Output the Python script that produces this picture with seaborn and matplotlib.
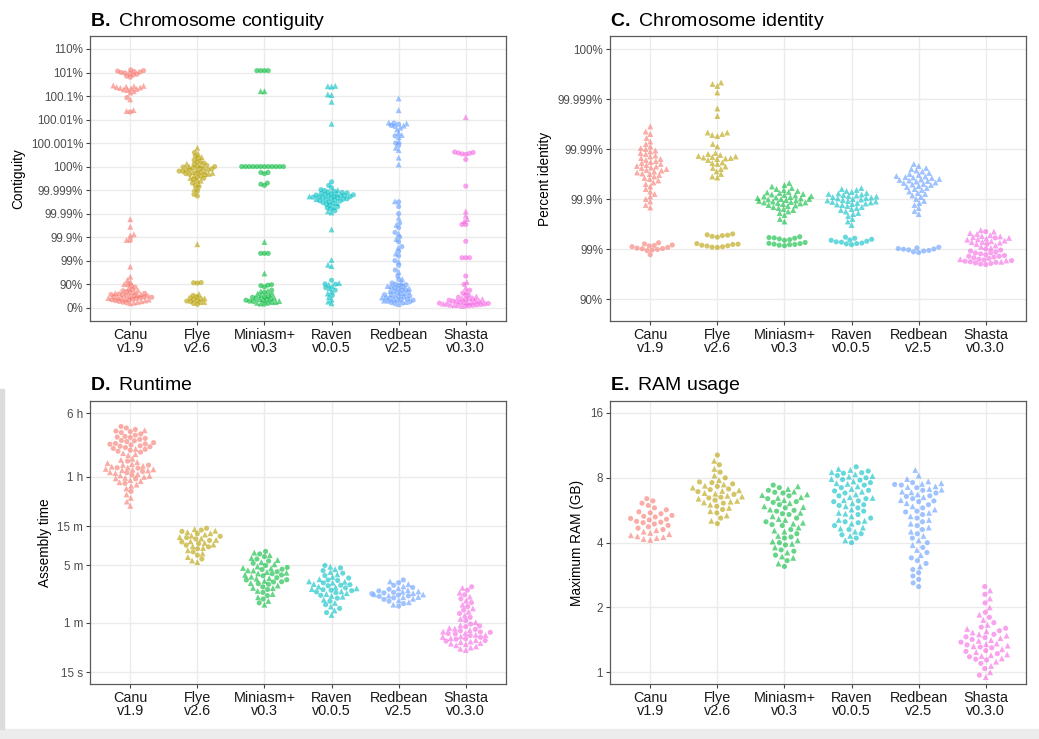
import warnings

import matplotlib
matplotlib.use("Agg")
import matplotlib.pyplot as plt
import numpy as np
import pandas as pd
import seaborn as sns
from matplotlib.markers import MarkerStyle
from matplotlib.patches import Rectangle
from matplotlib.ticker import NullLocator

warnings.filterwarnings("ignore")

ASSEMBLERS = ["Canu\nv1.9", "Flye\nv2.6", "Miniasm+\nv0.3", "Raven\nv0.0.5", "Redbean\nv2.5", "Shasta\nv0.3.0"]
PALETTE = ["#F8766D", "#B79F00", "#00BA38", "#00BFC4", "#619CFF", "#F564E3"]

# ---- B. contiguity (%) : _c = circles, _t = triangles
contig_canu_c = [101.3, 101.2, 101.1, 101.0, 100.92, 100.85, 100.78, 100.7, 100.63, 101.15, 101.05, 100.96,
                 100.085, 100.021,
                 99.862, 89.5, 88.0, 86.5, 83.0, 81.0, 79.0, 77.0, 75.5, 74.0, 72.0, 70.0, 68.0, 66.0, 64.0, 62.0,
                 60.0, 57.0, 54.0, 50.0, 46.0, 42.0, 38.0, 72.5, 69.0, 65.0, 59.0, 53.0]
contig_canu_t = [100.2, 100.22, 100.25, 100.18, 100.27, 100.21, 100.24, 100.19, 100.23, 100.26, 100.16, 100.28,
                 100.14, 100.072, 100.023, 100.025, 99.9826, 99.9637, 99.924, 99.915, 99.868, 98.2, 95.2, 93.4,
                 91.9, 90.0, 85.0, 82.0, 78.0, 76.0, 73.0, 71.0, 67.0, 63.0, 61.0, 58.0, 55.0, 51.0, 47.0, 43.0,
                 39.0, 35.0]
contig_flye_c = [100.0006, 100.00045, 100.00035, 100.00028, 100.0002, 100.00015, 100.0001, 100.00005, 100.00002,
                 100.0, 99.99998, 99.99995, 99.99991, 99.9999, 99.99986, 99.99985, 99.99981, 99.9998, 99.99976,
                 99.99972, 99.9997, 99.99967, 99.99964, 99.9996, 99.99955, 99.9995, 99.99945, 99.99938, 99.9993,
                 99.9992, 99.9991, 99.99888, 99.99849, 99.99822, 91.3, 91.0, 91.5, 70.0, 62.0, 55.0, 48.0, 40.0,
                 33.0, 28.0, 45.0, 58.0, 66.0, 52.0]
contig_flye_t = [100.0008, 100.00055, 100.0004, 100.00025, 100.00012, 100.00007, 100.0, 99.99997, 99.9999,
                 99.99987, 99.9998, 99.99977, 99.99973, 99.99969, 99.99962, 99.99952, 99.9994, 99.99925, 99.99905,
                 99.8, 74.0, 60.0, 42.0]
contig_miniasm_c = [101.2, 101.2, 101.2, 101.2, 100.0, 100.0, 100.0, 100.0, 100.0, 100.0, 100.0, 100.0, 100.0,
                    100.0, 100.0, 100.0, 99.99975, 99.99975, 99.9997, 99.9993, 99.9992, 99.99925,
                    99.51, 99.51, 99.51, 89.5, 89.0, 88.5, 87.0, 82.0, 78.0, 72.0, 68.0, 64.0, 60.0, 55.0, 50.0,
                    45.0, 40.0, 35.0, 30.0, 66.0, 58.0, 52.0, 47.0]
contig_miniasm_t = [100.16, 100.16, 99.84, 96.5, 81.0, 80.0, 70.0, 62.0, 57.0, 48.0, 42.0, 38.0, 33.0, 75.0]
contig_raven_c = [99.99935, 99.9992, 99.9991, 99.99902, 99.998953, 99.998878, 99.998798, 99.998741, 99.998682,
                  99.99862, 99.998555, 99.998486, 99.998415, 99.998378, 99.998302, 99.998262, 99.998222, 99.99818,
                  99.998095, 99.99805, 99.998005, 99.997911, 99.997812, 99.997761, 99.997656, 99.997545, 99.997488,
                  99.99737, 99.997182, 99.997049, 99.996838, 99.996612, 99.996369, 99.996019, 99.995533, 99.994988,
                  99.994377, 99.99369, 99.992414, 93.2, 90.3, 90.0, 86.0, 82.0, 70.0]
contig_raven_t = [100.26, 100.27, 100.25, 100.117, 100.11, 100.057, 100.0066, 99.999, 99.998587, 99.998138,
                  99.997601, 99.996452, 99.994752, 99.992057, 99.991087, 99.953, 99.07, 98.5, 98.3, 91.0, 89.5,
                  88.0, 85.0, 80.0, 75.0, 65.0, 55.0, 45.0, 35.0]
contig_redbean_c = [100.00708, 100.00631, 100.00562, 100.00501, 100.002, 100.001, 100.0009, 99.99684, 99.99499,
                    99.99, 99.9749, 99.9602, 99.9369, 99.9, 99.8415, 99.749, 99.602, 99.369, 99.0, 98.42, 97.49,
                    95.53, 93.69, 91.09, 90.0, 89.5, 88.8, 87.4, 85.9, 84.2, 82.2, 80.0, 77.6, 74.9, 71.8, 68.4,
                    64.5, 60.2, 55.3, 49.9, 43.8, 36.9, 62.0, 67.0, 72.0, 78.0, 83.0, 86.5, 58.0, 52.0, 47.0, 40.0,
                    33.0]
contig_redbean_t = [100.079, 100.025, 100.0074, 100.0068, 100.0055, 100.0045, 100.0038, 100.00275, 100.0022,
                    100.0018, 100.0012, 100.0008, 100.0007, 100.00038, 100.00009, 99.997, 99.985, 99.97, 99.93,
                    99.88, 99.72, 99.5, 98.9, 97.0, 94.0, 91.5, 88.0, 85.0, 81.0, 76.0, 70.0, 63.0, 57.0, 50.0,
                    42.0, 30.0]
contig_shasta_c = [100.00062, 100.0006, 100.00058, 100.00056, 100.00054, 100.00052, 100.0003, 99.99917, 99.971,
                   99.971, 99.85, 99.25, 99.25, 99.25, 95.5, 89.8, 82.0, 76.0, 70.0, 64.0, 58.0, 52.0, 47.0, 42.0,
                   38.0, 34.0, 30.0, 27.0, 24.0, 21.0, 18.0, 15.0, 48.0, 55.0, 45.0, 36.0, 28.0, 20.0]
contig_shasta_t = [100.0126, 99.992, 99.988, 99.983, 99.979, 92.0, 86.0, 79.0, 73.0, 67.0, 61.0, 50.0, 44.0,
                   40.0, 32.0, 26.0, 23.0, 16.0, 62.0, 57.0]

# ---- C. identity (%)
ident_canu_c = [99.25, 99.21, 99.17, 99.13, 99.1, 99.07, 99.04, 99.01, 98.98, 98.95, 98.92, 99.15, 99.02, 98.7]
ident_canu_t = [99.996452, 99.995533, 99.994988, 99.993974, 99.992921, 99.992057, 99.991087, 99.99045, 99.99,
                99.989285, 99.98878, 99.98798, 99.98741, 99.98651, 99.98587, 99.98486, 99.98415, 99.9834, 99.98262,
                99.9818, 99.98095, 99.98005, 99.97911, 99.97812, 99.97761, 99.97656, 99.97601, 99.97488, 99.9737,
                99.97308, 99.97182, 99.97049, 99.9691, 99.96838, 99.96689, 99.96452, 99.96198, 99.96019, 99.95734,
                99.95323, 99.94988, 99.94377, 99.9369, 99.92921, 99.92057, 99.91087, 99.9, 99.8878, 99.8682,
                99.8521]
ident_flye_c = [99.5, 99.48, 99.46, 99.44, 99.42, 99.47, 99.22, 99.19, 99.16, 99.13, 99.1, 99.07, 99.2, 99.14,
                99.08]
ident_flye_t = [99.99933, 99.9993, 99.99926, 99.99913, 99.998451, 99.997812, 99.995323, 99.99532, 99.994988,
                99.994752, 99.994505, 99.992057, 99.991087, 99.98798, 99.98741, 99.98682, 99.9862, 99.98587,
                99.98555, 99.98521, 99.98486, 99.98451, 99.98415, 99.9834, 99.98138, 99.98005, 99.97761, 99.97488,
                99.97182, 99.96838, 99.96452, 99.96285, 99.98095, 99.97601]
ident_miniasm_c = [99.43, 99.41, 99.39, 99.37, 99.35, 99.33, 99.4, 99.26, 99.23, 99.2, 99.18, 99.16, 99.14,
                   99.22, 99.19]
ident_miniasm_t = [99.95214, 99.94752, 99.94377, 99.93974, 99.9369, 99.93393, 99.93082, 99.92756, 99.92414,
                   99.92057, 99.91872, 99.91682, 99.91489, 99.9129, 99.91087, 99.9088, 99.90667, 99.9045, 99.90228,
                   99.9, 99.89767, 99.89529, 99.89285, 99.89035, 99.8878, 99.8852, 99.8825, 99.8798, 99.877,
                   99.8741, 99.8682, 99.862, 99.8555, 99.8486, 99.8415, 99.834, 99.8222, 99.8095, 99.7911, 99.7488,
                   99.7182, 99.92587, 99.8651, 99.9, 99.8825]
ident_raven_c = [99.42, 99.39, 99.36, 99.33, 99.3, 99.27, 99.24, 99.21, 99.18, 99.34, 99.28, 99.22]
ident_raven_t = [99.93974, 99.9369, 99.93393, 99.93082, 99.92756, 99.92414, 99.92057, 99.91872, 99.91682,
                 99.91489, 99.9129, 99.91087, 99.9088, 99.90667, 99.9045, 99.9, 99.89767, 99.89529, 99.89285,
                 99.89035, 99.8878, 99.8852, 99.8825, 99.8798, 99.877, 99.8741, 99.8712, 99.8682, 99.862, 99.8555,
                 99.8486, 99.8415, 99.834, 99.8222, 99.8095, 99.8, 99.7812, 99.7488, 99.7182, 99.6689, 99.92238,
                 99.90228]
ident_redbean_c = [99.08, 99.05, 99.02, 98.99, 98.96, 98.93, 98.9, 98.86, 98.82, 99.0]
ident_redbean_t = [99.98005, 99.97812, 99.97601, 99.97488, 99.97308, 99.97182, 99.9698, 99.96838, 99.96689,
                   99.96533, 99.96452, 99.96285, 99.96198, 99.96019, 99.95926, 99.95831, 99.95635, 99.95533,
                   99.95323, 99.95214, 99.94988, 99.94752, 99.94505, 99.94246, 99.93974, 99.9369, 99.93393,
                   99.92921, 99.92414, 99.92057, 99.91489, 99.9088, 99.9, 99.89035, 99.8798, 99.8682, 99.8486,
                   99.8262, 99.8, 99.96369, 99.95734, 99.94871]
ident_shasta_c = [99.55, 99.4, 99.2, 99.0, 98.95, 98.9, 98.85, 98.8, 98.75, 98.7, 98.65, 98.6, 98.55, 98.5, 98.45,
                  98.4, 98.35, 98.3, 98.25, 98.2, 98.15, 98.1, 98.05, 98.0, 97.95, 98.6, 98.8]
ident_shasta_t = [99.58, 99.55, 99.52, 99.5, 99.47, 99.45, 99.42, 99.4, 99.38, 99.35, 99.32, 99.3, 99.27, 99.25,
                  99.2, 99.15, 99.1, 99.05, 99.44, 99.36, 99.28, 98.4, 98.2, 98.3]

# ---- D. runtime (seconds)
time_canu_c = [14800, 14200, 13600, 13000, 12500, 12000, 11600, 11200, 10900, 10600, 10300, 10000, 9700, 9400,
               9200, 9000, 8800, 8600, 8400, 8200, 8000, 7800, 7600, 7400, 7200, 12800, 11000, 9900, 9100, 8500,
               5600, 5000, 4600, 4200, 3800, 3400, 3000, 4650, 4050, 2400]
time_canu_t = [7000, 6800, 6600, 7900, 13300, 6000, 5800, 5450, 5300, 5150, 4900, 4800, 4700, 4500, 4400, 4300,
               4100, 4000, 3900, 3700, 3600, 3500, 3300, 3200, 3100, 2900, 2800, 4350, 3750, 3450, 5050, 4450,
               2600, 2200, 2000, 1800, 1600]
time_flye_c = [850, 810, 780, 730, 680, 655, 630, 605, 580, 555, 530, 505, 480, 440, 400, 360]
time_flye_t = [830, 795, 765, 740, 715, 692, 665, 640, 615, 590, 565, 540, 515, 490, 460, 420, 380, 345, 330]
time_miniasm_c = [445, 415, 385, 360, 340, 320, 300, 284, 268, 252, 238, 225, 213, 201, 189, 177, 165, 153, 141,
                  129, 117, 105, 270, 230, 190, 200, 180]
time_miniasm_t = [430, 400, 370, 350, 330, 310, 292, 276, 260, 245, 231, 219, 207, 195, 183, 171, 159, 147, 135,
                  123, 111, 100, 250, 210, 240, 262, 160, 280]
time_raven_c = [300, 280, 260, 242, 226, 211, 197, 184, 172, 160, 150, 140, 130, 120, 110, 100, 90, 80, 200, 170,
                148, 175, 152, 143]
time_raven_t = [290, 270, 250, 234, 218, 204, 190, 178, 166, 155, 145, 135, 125, 115, 105, 95, 85, 75, 185, 158,
                138, 163, 192, 128]
time_redbean_c = [200, 185, 172, 162, 154, 147, 141, 136, 131, 126, 121, 116, 110, 103, 96, 139, 128]
time_redbean_t = [192, 178, 167, 158, 150, 144, 138, 133, 129, 123, 118, 113, 107, 100, 145, 134, 124]
time_shasta_c = [165, 150, 132, 118, 106, 95, 86, 78, 70, 64, 58, 54, 50, 48, 46, 44, 42, 40, 38, 36, 55, 46.5,
                 38.5, 44.5, 36.5]
time_shasta_t = [160, 140, 125, 112, 100, 90, 82, 74, 67, 61, 56, 52, 49, 47, 45, 43, 41, 39, 37, 35, 34, 33, 32,
                 31, 30, 29, 28, 51, 42.5, 35.5, 33.5, 40.5]

# ---- E. RAM (GB)
ram_canu_c = [6.4, 6.25, 6.1, 5.95, 5.8, 5.68, 5.56, 5.45, 5.35, 5.26, 5.18, 5.1, 5.02, 4.95, 4.88, 4.81, 4.74,
              4.67, 4.6, 5.5, 5.3, 5.14, 4.98]
ram_canu_t = [4.12, 4.16, 4.2, 4.24, 4.28, 4.33, 4.38, 4.44, 4.5, 4.57]
ram_flye_c = [10.2, 9.2, 8.5, 8.0, 7.6, 7.3, 7.1, 6.9, 6.7, 6.5, 6.3, 6.1, 5.9, 5.7, 5.5, 5.2, 4.9, 7.65, 7.05,
              6.45, 7.5]
ram_flye_t = [9.6, 8.8, 8.2, 7.8, 7.45, 7.2, 7.0, 6.8, 6.6, 6.4, 6.2, 6.0, 5.8, 5.6, 5.35, 5.05, 7.35, 6.75, 6.15,
              6.95, 6.55, 6.25]
ram_miniasm_c = [7.4, 7.2, 7.0, 6.8, 6.6, 6.4, 6.2, 6.0, 5.8, 5.6, 5.4, 5.2, 5.0, 4.8, 4.6, 4.4, 4.2, 4.0, 3.9,
                 3.7, 3.5, 3.3, 3.1, 6.85, 6.15, 5.45, 4.85, 4.25, 3.65, 5.65]
ram_miniasm_t = [7.3, 7.1, 6.9, 6.7, 6.5, 6.3, 6.1, 5.9, 5.7, 5.5, 5.3, 5.1, 4.9, 4.7, 4.5, 4.3, 4.1, 3.95, 3.8,
                 3.6, 3.4, 3.2, 6.45, 5.85, 5.15, 4.55, 4.05, 3.45, 6.65, 4.95]
ram_raven_c = [9.0, 8.6, 8.4, 8.2, 8.0, 7.8, 7.6, 7.4, 7.2, 7.0, 6.8, 6.6, 6.4, 6.2, 6.0, 5.8, 5.6, 5.4, 5.2, 5.0,
               4.8, 4.6, 4.4, 4.2, 4.0, 8.45, 7.85, 6.95, 5.95, 4.95, 4.35, 6.25]
ram_raven_t = [8.8, 8.5, 8.3, 8.1, 7.9, 7.7, 7.5, 7.3, 7.1, 6.9, 6.7, 6.5, 6.3, 6.1, 5.9, 5.7, 5.5, 5.3, 5.1, 4.9,
               4.7, 4.5, 4.3, 4.1, 8.15, 7.55, 6.45, 5.45, 4.65, 8.7, 5.05]
ram_redbean_c = [7.6, 7.4, 7.2, 7.0, 6.8, 6.6, 6.4, 6.2, 6.0, 5.8, 5.6, 5.4, 5.2, 5.0, 4.8, 4.6, 4.4, 4.2, 4.0,
                 3.8, 3.6, 3.4, 3.2, 3.0, 2.8, 2.6, 7.45, 6.55, 5.55, 6.25, 2.7, 2.5, 2.9, 3.3]
ram_redbean_t = [8.7, 8.2, 7.9, 7.7, 7.5, 7.3, 7.1, 6.9, 6.7, 6.5, 6.3, 6.1, 5.9, 5.7, 5.5, 5.3, 5.1, 4.9, 4.7,
                 4.5, 4.3, 4.1, 3.9, 3.7, 3.5, 7.25, 7.05, 6.85, 7.55, 3.1]
ram_shasta_c = [2.5, 2.3, 2.1, 1.9, 1.8, 1.7, 1.62, 1.56, 1.5, 1.46, 1.42, 1.38, 1.34, 1.3, 1.26, 1.22, 1.18,
                1.14, 1.1, 1.04, 0.97, 1.45, 1.25, 1.15, 1.31, 1.6]
ram_shasta_t = [2.4, 2.2, 2.0, 1.85, 1.75, 1.66, 1.59, 1.53, 1.48, 1.44, 1.4, 1.36, 1.32, 1.28, 1.24, 1.2, 1.16,
                1.12, 1.07, 1.0, 0.95, 1.35, 1.55, 1.41, 1.21, 1.5, 1.33, 1.19]

CONTIG_TICKS = [0, 90, 99, 99.9, 99.99, 99.999, 100, 100.001, 100.01, 100.1, 101, 110]
CONTIG_LABELS = ["0%", "90%", "99%", "99.9%", "99.99%", "99.999%", "100%", "100.001%", "100.01%", "100.1%",
                 "101%", "110%"]
IDENT_TICKS = [90, 99, 99.9, 99.99, 99.999, 100]
IDENT_LABELS = ["90%", "99%", "99.9%", "99.99%", "99.999%", "100%"]
TIME_TICKS = [15, 60, 300, 900, 3600, 21600]
TIME_LABELS = ["15 s", "1 m", "5 m", "15 m", "1 h", "6 h"]
RAM_TICKS = [1, 2, 4, 8, 16]
RAM_LABELS = ["1", "2", "4", "8", "16"]

W, H = 1039, 739
MARKER_PT = 3.7


def nines_fwd(v):
    """Escala em 'noves': cada casa decimal perto de 100% ocupa o mesmo espaço."""
    f = np.asarray(v, dtype=float) / 100.0
    with np.errstate(all="ignore"):
        lo = -np.log10(1.0 - f)
        hi = 12.0 + np.log10(f - 1.0)
        mid = 6.0 + (f - 1.0) / 1e-5
    return np.where(f <= 0.99999, lo, np.where(f >= 1.00001, hi, mid))


def nines_inv(p):
    p = np.asarray(p, dtype=float)
    with np.errstate(all="ignore"):
        lo = 1.0 - 10.0 ** (-p)
        hi = 1.0 + 10.0 ** (p - 12.0)
        mid = 1.0 + (p - 6.0) * 1e-5
    return 100.0 * np.where(p <= 5.0, lo, np.where(p >= 7.0, hi, mid))


def montar_tabela(grupos):
    linhas = []
    for nome, (circ, tri) in zip(ASSEMBLERS, grupos):
        linhas += [(nome, v, "o") for v in circ]
        linhas += [(nome, v, "^") for v in tri]
    return pd.DataFrame(linhas, columns=["assembler", "value", "shape"])


def marker_path(m, scale=1.0):
    ms = MarkerStyle(m)
    return ms.get_path().transformed(ms.get_transform().scale(scale))


sns.set_theme(style="whitegrid")
plt.rcParams["font.family"] = ["Liberation Sans", "DejaVu Sans"]
plt.rcParams["mathtext.fontset"] = "custom"
plt.rcParams["mathtext.rm"] = "Liberation Sans"
plt.rcParams["mathtext.bf"] = "Liberation Sans:bold"

paineis = [
    dict(box=(90, 36, 506, 321), title_y=26, title=r"$\mathbf{B.}$ Chromosome contiguity", ylabel="Contiguity",
         scale="nines", ticks=CONTIG_TICKS, labels=CONTIG_LABELS, ylim=(-267.3, 135.7), swarm=2.6,
         groups=[(contig_canu_c, contig_canu_t), (contig_flye_c, contig_flye_t),
                 (contig_miniasm_c, contig_miniasm_t), (contig_raven_c, contig_raven_t),
                 (contig_redbean_c, contig_redbean_t), (contig_shasta_c, contig_shasta_t)]),
    dict(box=(610, 36, 1026, 321), title_y=26, title=r"$\mathbf{C.}$ Chromosome identity", ylabel="Percent identity",
         scale="nines", ticks=IDENT_TICKS, labels=IDENT_LABELS, ylim=(72.46, 100.00026), swarm=3.6,
         groups=[(ident_canu_c, ident_canu_t), (ident_flye_c, ident_flye_t), (ident_miniasm_c, ident_miniasm_t),
                 (ident_raven_c, ident_raven_t), (ident_redbean_c, ident_redbean_t),
                 (ident_shasta_c, ident_shasta_t)]),
    dict(box=(90, 401, 506, 684), title_y=390, title=r"$\mathbf{D.}$ Runtime", ylabel="Assembly time",
         scale="log", ticks=TIME_TICKS, labels=TIME_LABELS, ylim=(10.8, 30250), swarm=3.8,
         groups=[(time_canu_c, time_canu_t), (time_flye_c, time_flye_t), (time_miniasm_c, time_miniasm_t),
                 (time_raven_c, time_raven_t), (time_redbean_c, time_redbean_t), (time_shasta_c, time_shasta_t)]),
    dict(box=(610, 401, 1026, 684), title_y=390, title=r"$\mathbf{E.}$ RAM usage", ylabel="Maximum RAM (GB)",
         scale="log", ticks=RAM_TICKS, labels=RAM_LABELS, ylim=(0.882, 18.19), swarm=4.6,
         groups=[(ram_canu_c, ram_canu_t), (ram_flye_c, ram_flye_t), (ram_miniasm_c, ram_miniasm_t),
                 (ram_raven_c, ram_raven_t), (ram_redbean_c, ram_redbean_t), (ram_shasta_c, ram_shasta_t)]),
]

fig = plt.figure(figsize=(W / 100, H / 100), dpi=100)
fig.patches.append(Rectangle((0, 0), 1, 10 / H, transform=fig.transFigure, color="#ececec", zorder=-5))
fig.patches.append(Rectangle((0, 10 / H), 4 / W, 340 / H, transform=fig.transFigure, color="#dcdcdc", zorder=-5))

eixos = []
for p in paineis:
    left, top, right, bottom = p["box"]
    ax = fig.add_axes([left / W, 1 - bottom / H, (right - left) / W, (bottom - top) / H])
    if p["scale"] == "nines":
        ax.set_yscale("function", functions=(nines_fwd, nines_inv))
    else:
        ax.set_yscale("log")
    df = montar_tabela(p["groups"])
    p["df"] = df
    sns.swarmplot(data=df, x="assembler", y="value", hue="assembler", order=ASSEMBLERS, hue_order=ASSEMBLERS,
                  palette=PALETTE, size=p["swarm"], linewidth=0, alpha=0.6, legend=False, ax=ax)
    ax.set_xlim(-0.6, 5.6)
    ax.set_ylim(*p["ylim"])
    ax.set_yticks(p["ticks"], labels=p["labels"])
    ax.yaxis.set_minor_locator(NullLocator())
    ax.set_facecolor("white")
    ax.grid(True, axis="both", color="#ebebeb", linewidth=1.0)
    ax.set_axisbelow(True)
    for sp in ax.spines.values():
        sp.set_color("#5a5a5a")
        sp.set_linewidth(0.9)
    ax.tick_params(axis="both", which="major", bottom=True, left=True, length=3, width=0.8, color="#444444")
    ax.tick_params(axis="y", labelsize=8.4, labelcolor="#4d4d4d", pad=2)
    ax.tick_params(axis="x", labelsize=10.4, labelcolor="#1a1a1a", pad=2)
    for lbl in ax.get_xticklabels():
        lbl.set_linespacing(0.95)
    ax.set_xlabel("")
    ax.set_ylabel(p["ylabel"], fontsize=9.8, color="black", labelpad=4)
    fig.text(left / W, 1 - p["title_y"] / H, p["title"], fontsize=14, ha="left", va="baseline", color="black")
    eixos.append(ax)

# primeiro desenho: o seaborn calcula o enxame com marcadores pequenos
fig.canvas.draw()

circulo = marker_path("o")
triangulo = marker_path("^", 1.15)
for ax, p in zip(eixos, paineis):
    df = p["df"]
    for coll, nome in zip(ax.collections, ASSEMBLERS):
        coll.__dict__.pop("draw", None)
        formas = df.loc[df["assembler"] == nome, "shape"].tolist()
        coll.set_paths([circulo if f == "o" else triangulo for f in formas])
        coll.set_sizes([MARKER_PT ** 2])

fig.savefig("out.png", dpi=100)
